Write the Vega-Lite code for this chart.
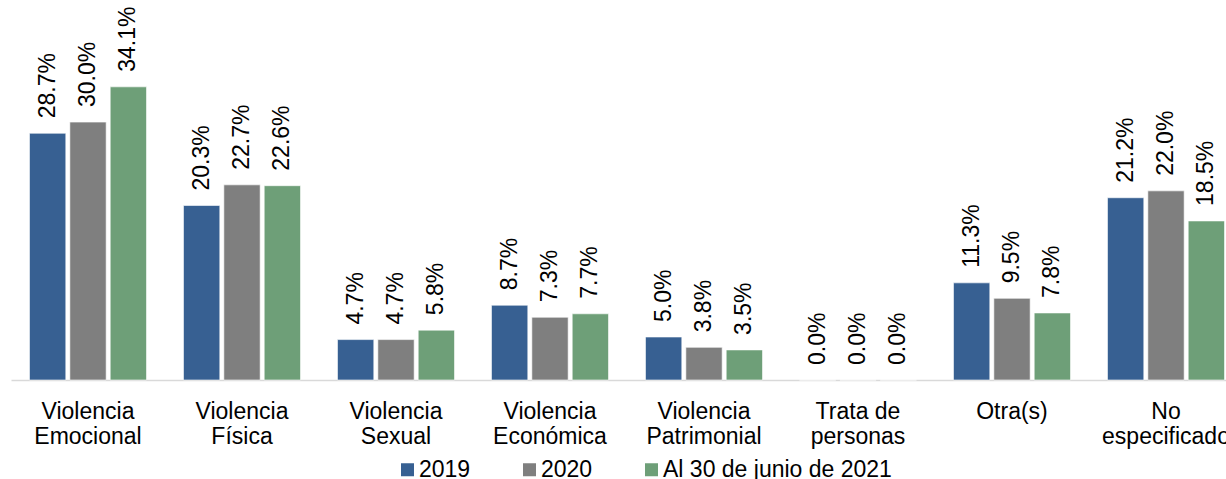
{
  "$schema": "https://vega.github.io/schema/vega-lite/v6.json",
  "width": 1215,
  "height": 380,
  "autosize": {"type": "none"},
  "padding": {"left": 11, "top": 0, "right": 0, "bottom": 99},
  "background": "white",
  "config": {"view": {"stroke": null}, "font": "Liberation Sans"},
  "data": {
    "values": [
      {"categoria": "Violencia Emocional", "serie": "2019", "valor": 0.287},
      {"categoria": "Violencia Emocional", "serie": "2020", "valor": 0.300},
      {"categoria": "Violencia Emocional", "serie": "Al 30 de junio de 2021", "valor": 0.341},
      {"categoria": "Violencia Física", "serie": "2019", "valor": 0.203},
      {"categoria": "Violencia Física", "serie": "2020", "valor": 0.227},
      {"categoria": "Violencia Física", "serie": "Al 30 de junio de 2021", "valor": 0.226},
      {"categoria": "Violencia Sexual", "serie": "2019", "valor": 0.047},
      {"categoria": "Violencia Sexual", "serie": "2020", "valor": 0.047},
      {"categoria": "Violencia Sexual", "serie": "Al 30 de junio de 2021", "valor": 0.058},
      {"categoria": "Violencia Económica", "serie": "2019", "valor": 0.087},
      {"categoria": "Violencia Económica", "serie": "2020", "valor": 0.073},
      {"categoria": "Violencia Económica", "serie": "Al 30 de junio de 2021", "valor": 0.077},
      {"categoria": "Violencia Patrimonial", "serie": "2019", "valor": 0.050},
      {"categoria": "Violencia Patrimonial", "serie": "2020", "valor": 0.038},
      {"categoria": "Violencia Patrimonial", "serie": "Al 30 de junio de 2021", "valor": 0.035},
      {"categoria": "Trata de personas", "serie": "2019", "valor": 0.0},
      {"categoria": "Trata de personas", "serie": "2020", "valor": 0.0},
      {"categoria": "Trata de personas", "serie": "Al 30 de junio de 2021", "valor": 0.0},
      {"categoria": "Otra(s)", "serie": "2019", "valor": 0.113},
      {"categoria": "Otra(s)", "serie": "2020", "valor": 0.095},
      {"categoria": "Otra(s)", "serie": "Al 30 de junio de 2021", "valor": 0.078},
      {"categoria": "No especificado", "serie": "2019", "valor": 0.212},
      {"categoria": "No especificado", "serie": "2020", "valor": 0.220},
      {"categoria": "No especificado", "serie": "Al 30 de junio de 2021", "valor": 0.185}
    ]
  },
  "encoding": {
    "x": {
      "field": "categoria",
      "type": "nominal",
      "sort": null,
      "scale": {"range": [0, 1232], "paddingInner": 0.24, "paddingOuter": 0.12},
      "axis": {
        "title": null,
        "labelAngle": 0,
        "ticks": false,
        "domainColor": "#d9d9d9",
        "domainWidth": 1.5,
        "labelFontSize": 23,
        "labelColor": "#000000",
        "labelPadding": 20,
        "labelLineHeight": 25,
        "labelLimit": 0,
        "labelBaseline": "top",
        "labelExpr": "datum.label == 'Trata de personas' ? ['Trata de', 'personas'] : split(datum.label, ' ')"
      }
    },
    "xOffset": {
      "field": "serie",
      "type": "nominal",
      "sort": null,
      "scale": {"paddingInner": 0.1, "paddingOuter": 0}
    },
    "y": {
      "field": "valor",
      "type": "quantitative",
      "scale": {"domain": [0, 0.442], "nice": false},
      "axis": null
    }
  },
  "layer": [
    {
      "mark": {"type": "bar", "stroke": "#ffffff", "strokeWidth": 0.6},
      "encoding": {
        "color": {
          "field": "serie",
          "type": "nominal",
          "scale": {
            "domain": ["2019", "2020", "Al 30 de junio de 2021"],
            "range": ["#376092", "#7f7f7f", "#6e9f78"]
          },
          "legend": {
            "title": null,
            "orient": "none",
            "legendX": 385,
            "legendY": 458,
            "direction": "horizontal",
            "symbolType": "square",
            "symbolSize": 169,
            "symbolStrokeWidth": 0,
            "labelFontSize": 23,
            "labelColor": "#000000",
            "labelOffset": 0,
            "columnPadding": 47,
            "labelLimit": 0
          }
        }
      }
    },
    {
      "mark": {
        "type": "text",
        "angle": 270,
        "align": "left",
        "baseline": "middle",
        "dx": 15,
        "fontSize": 23,
        "color": "#000000"
      },
      "encoding": {
        "text": {"field": "valor", "type": "quantitative", "format": ".1%"}
      }
    }
  ]
}
